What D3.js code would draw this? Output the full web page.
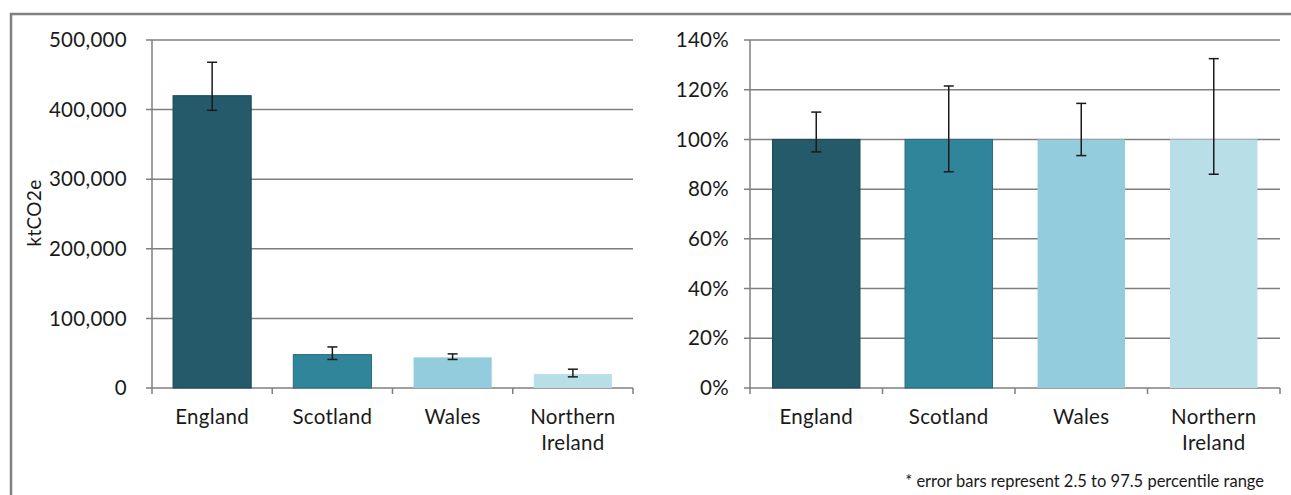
<!DOCTYPE html>
<html>
<head>
<meta charset="utf-8">
<script src="https://cdn.jsdelivr.net/npm/d3@7"></script>
<style>
  body { margin: 0; background: #fff; }
  svg text { font-family: Lato, "Open Sans", sans-serif; fill: #1a1a1a; }
</style>
</head>
<body>
<div id="chart"></div>
<script>
const regions = ["England", "Scotland", "Wales", "Northern Ireland"];
const colours = ["#245a69", "#31859b", "#93cddd", "#b8dee8"];

// left chart: emissions in ktCO2e
const emissions = [420000, 48000, 44000, 20000];
const emissionsLow = [399000, 41000, 41000, 16000];
const emissionsHigh = [468000, 59000, 49000, 27000];
const emissionsTicks = [0, 100000, 200000, 300000, 400000, 500000];

// right chart: relative to central estimate
const relative = [1, 1, 1, 1];
const relativeLow = [0.95, 0.87, 0.935, 0.86];
const relativeHigh = [1.11, 1.215, 1.145, 1.325];
const relativeTicks = [0, 0.2, 0.4, 0.6, 0.8, 1.0, 1.2, 1.4];

const W = 1291, H = 495;
const svg = d3.select("#chart").append("svg")
  .attr("width", W)
  .attr("height", H);

// outer frame (top and left edges only are visible)
svg.append("path")
  .attr("d", "M11,495 V14 H1291")
  .attr("fill", "none")
  .attr("stroke", "#808080")
  .attr("stroke-width", 2.5);

function drawPanel(opts) {
  const g = svg.append("g");
  const x = d3.scaleBand()
    .domain(regions)
    .range([opts.left, opts.right])
    .paddingInner(opts.pad)
    .paddingOuter(opts.pad / 2);
  const y = d3.scaleLinear()
    .domain([0, opts.max])
    .range([388, 40]);

  // gridlines
  g.selectAll(".grid")
    .data(opts.ticks)
    .join("line")
    .attr("x1", opts.left - 6)
    .attr("x2", opts.right)
    .attr("y1", d => y(d))
    .attr("y2", d => y(d))
    .attr("stroke", "#7f7f7f")
    .attr("stroke-width", 1.5);

  // y axis line
  g.append("line")
    .attr("x1", opts.left).attr("x2", opts.left)
    .attr("y1", y(opts.max)).attr("y2", y(0) + 6)
    .attr("stroke", "#7f7f7f")
    .attr("stroke-width", 1.5);

  // category separator ticks
  const step = x.step();
  g.selectAll(".sep")
    .data(d3.range(1, regions.length + 1))
    .join("line")
    .attr("x1", i => opts.left + i * step)
    .attr("x2", i => opts.left + i * step)
    .attr("y1", y(0))
    .attr("y2", y(0) + 6)
    .attr("stroke", "#7f7f7f")
    .attr("stroke-width", 1.5);

  // tick labels
  g.selectAll(".ylab")
    .data(opts.ticks)
    .join("text")
    .attr("x", opts.labelX)
    .attr("y", d => y(d))
    .attr("dy", "0.35em")
    .attr("text-anchor", "end")
    .style("font-size", "20.5px")
    .style("letter-spacing", "0.3px")
    .text(opts.fmt);

  // bars
  g.selectAll(".bar")
    .data(opts.values)
    .join("rect")
    .attr("x", (d, i) => x(regions[i]))
    .attr("y", d => y(d))
    .attr("width", x.bandwidth())
    .attr("height", d => y(0) - y(d))
    .attr("fill", (d, i) => colours[i])
    .attr("stroke", (d, i) => i < 2 ? d3.color(colours[i]).darker(0.6) : "none")
    .attr("stroke-width", 1);

  // error bars
  const err = g.selectAll(".err")
    .data(regions)
    .join("g")
    .attr("stroke", "#1a1a1a")
    .attr("stroke-width", 1.5);
  const cx = d => x(d) + x.bandwidth() / 2;
  err.append("line")
    .attr("x1", cx).attr("x2", cx)
    .attr("y1", (d, i) => y(opts.low[i]))
    .attr("y2", (d, i) => y(opts.high[i]));
  err.append("line")
    .attr("x1", d => cx(d) - 5).attr("x2", d => cx(d) + 5)
    .attr("y1", (d, i) => y(opts.low[i]))
    .attr("y2", (d, i) => y(opts.low[i]));
  err.append("line")
    .attr("x1", d => cx(d) - 5).attr("x2", d => cx(d) + 5)
    .attr("y1", (d, i) => y(opts.high[i]))
    .attr("y2", (d, i) => y(opts.high[i]));

  // category labels
  g.selectAll(".xlab")
    .data(regions)
    .join("text")
    .attr("x", cx)
    .attr("y", 424)
    .attr("text-anchor", "middle")
    .style("font-size", "20.5px")
    .style("letter-spacing", "0.3px")
    .each(function(d) {
      const words = d.split(" ");
      d3.select(this).selectAll("tspan")
        .data(words)
        .join("tspan")
        .attr("x", cx(d))
        .attr("dy", (w, k) => k === 0 ? 0 : 26)
        .text(w => w);
    });
}

drawPanel({
  left: 152, right: 633, labelX: 127, pad: 0.35,
  max: 500000, ticks: emissionsTicks,
  values: emissions, low: emissionsLow, high: emissionsHigh,
  fmt: d3.format(",")
});

drawPanel({
  left: 750, right: 1280, labelX: 729, pad: 0.34,
  max: 1.4, ticks: relativeTicks,
  values: relative, low: relativeLow, high: relativeHigh,
  fmt: d3.format(".0%")
});

// y axis title
svg.append("text")
  .attr("transform", "translate(41,213) rotate(-90)")
  .attr("text-anchor", "middle")
  .style("font-size", "19px")
  .style("letter-spacing", "0.3px")
  .text("ktCO2e");

svg.append("text")
  .attr("x", 1264)
  .attr("y", 487)
  .attr("text-anchor", "end")
  .style("font-size", "16.5px")
  .text("* error bars represent 2.5 to 97.5 percentile range");
</script>
</body>
</html>
